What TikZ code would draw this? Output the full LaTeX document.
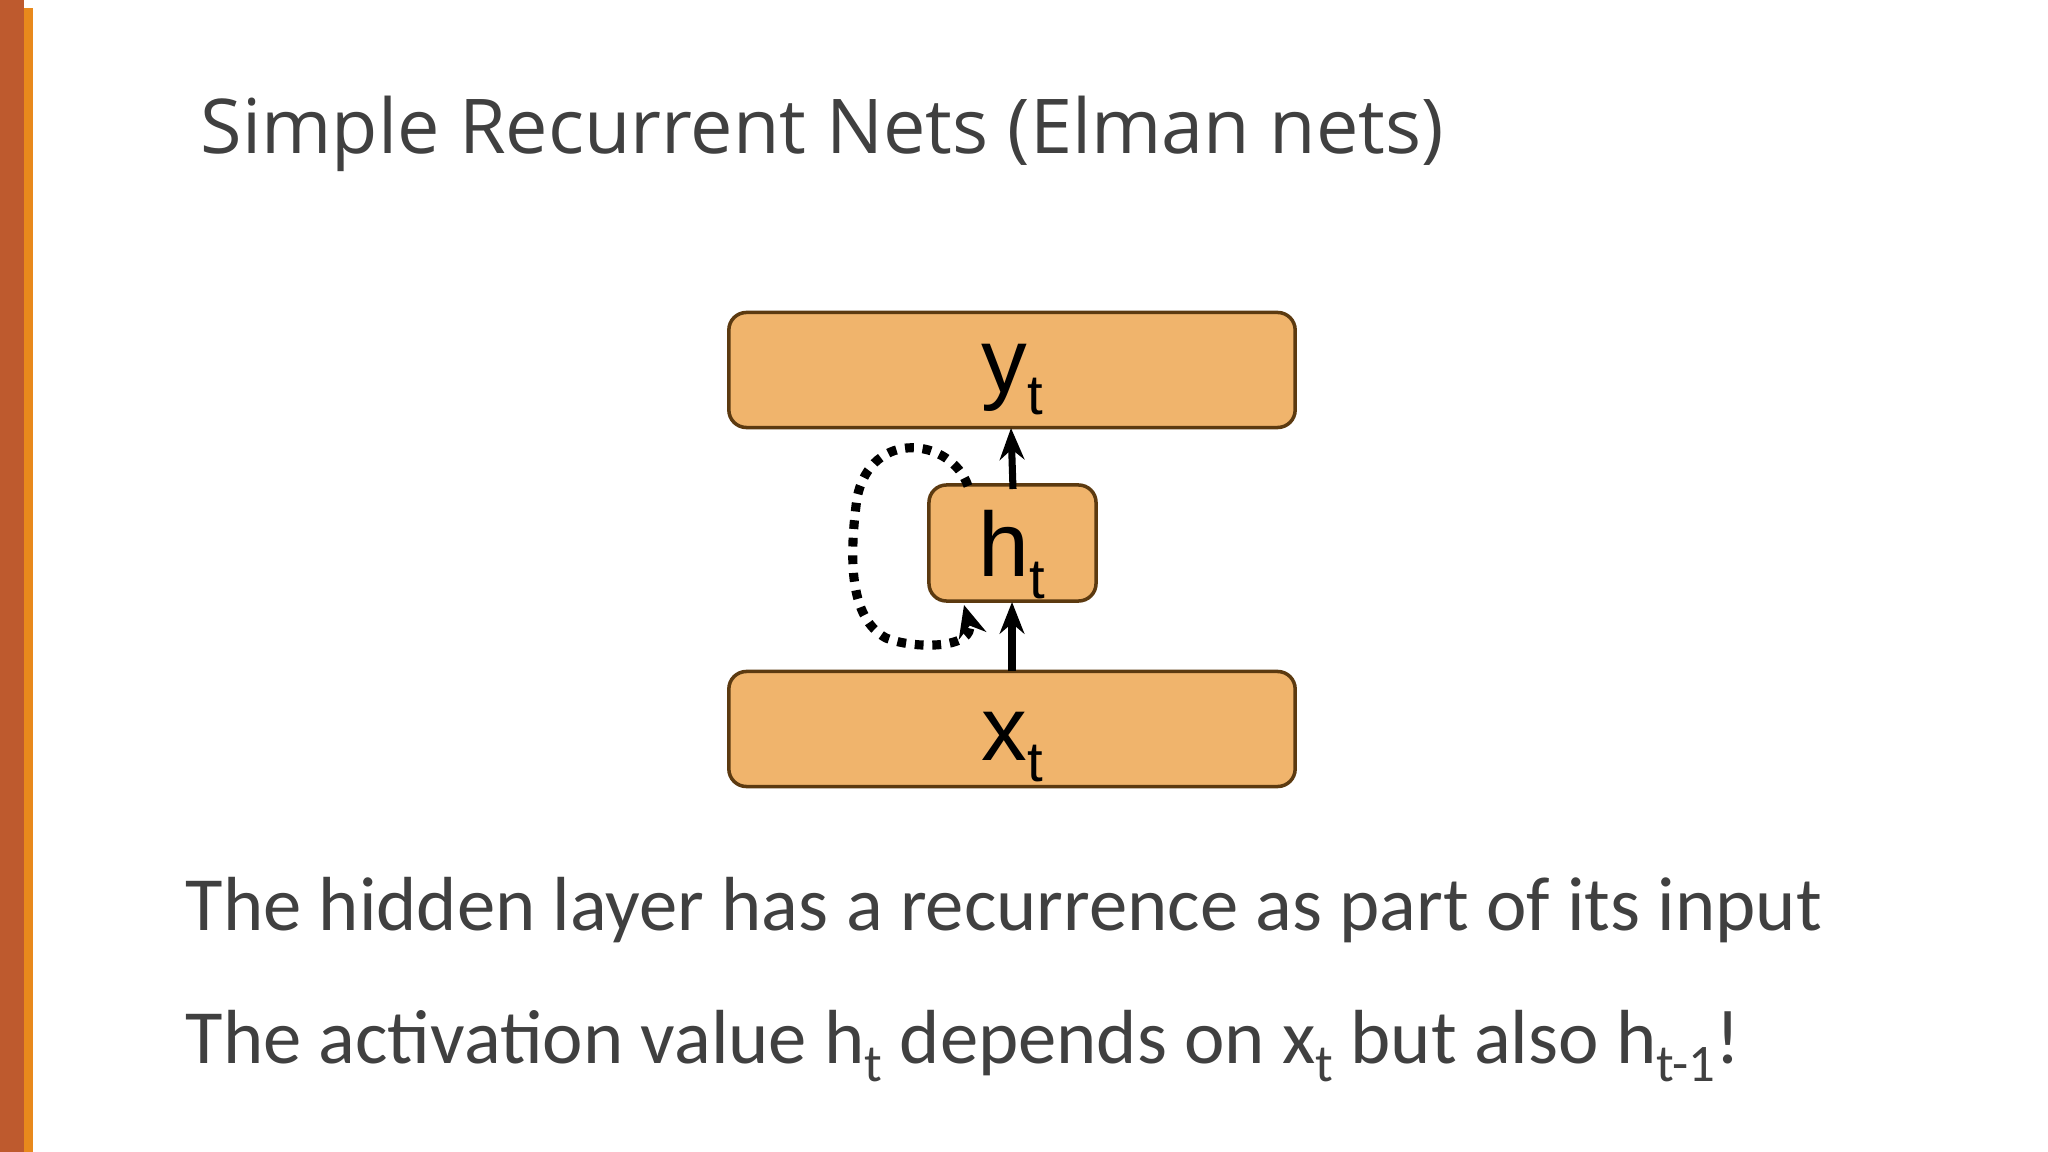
\documentclass[tikz,border=0pt]{standalone}
\usepackage{fontspec}
\setmainfont{Carlito}
\newfontfamily\titlefont{Open Sans}
\newfontfamily\arialfont{Liberation Sans}
\usetikzlibrary{arrows.meta}
\definecolor{boxfill}{HTML}{F0B46C}
\definecolor{boxline}{HTML}{5C3A10}
\definecolor{txt}{HTML}{404040}
\definecolor{stripeA}{HTML}{BE5A2E}
\definecolor{stripeB}{HTML}{E8891C}
\newcommand{\lowsub}[1]{\raisebox{-0.45ex}{\fontsize{16}{16}\selectfont #1}}
\newcommand{\bodysub}[1]{\raisebox{-0.5ex}{\fontsize{15}{15}\selectfont #1}}
\begin{document}
\begin{tikzpicture}[x=0.01cm,y=-0.01cm,
  layer/.style={draw=boxline,fill=boxfill,line width=1pt,rounded corners=5pt,inner sep=0pt},
  lab/.style={font=\arialfont\fontsize{26}{28}\selectfont,inner sep=0pt},
  arr/.style={-{Stealth[length=9pt,width=7pt]},line width=2pt}]
\useasboundingbox (0,0) rectangle (2048,1152);
\fill[white] (0,0) rectangle (2048,1152);
\fill[stripeA] (0,0) rectangle (24,1152);
\fill[stripeB] (24,8) rectangle (33,1152);
\node[anchor=base west,text=txt,inner sep=0pt,font=\titlefont\fontsize{21.5}{24}\selectfont] (title) at (200,154) {Simple Recurrent Nets (Elman nets)};
\node[layer,minimum width=5.66cm,minimum height=1.15cm] (y) at (1012,370) {};
\node[layer,minimum width=1.67cm,minimum height=1.16cm] (h) at (1012.5,543) {};
\node[layer,minimum width=5.66cm,minimum height=1.15cm] (x) at (1012,729) {};
\node[lab,anchor=base] (yl) at (1012,393) {y\lowsub{t}};
\node[lab,anchor=base] (hl) at (1012,577) {h\lowsub{t}};
\node[lab,anchor=base] (xl) at (1012,760) {x\lowsub{t}};
\draw[arr] (1013,489) -- (1011,428);
\draw[arr] (1012,671) -- (1012,602);
\coordinate (ls) at (968,486);
\coordinate (le) at (964,605);
\draw[-{Stealth[length=9pt,width=8pt]},line width=2.6pt,dash pattern=on 2.5pt off 2.5pt]
  (ls) .. controls (951,438) and (871,428) .. (857,498)
  .. controls (849,558) and (849,618) .. (886,638)
  .. controls (916,650) and (976,648) .. (le);
\node[anchor=base west,text=txt,inner sep=0pt,font=\fontsize{21.8}{24}\selectfont] (l1) at (185,930) {The hidden layer has a recurrence as part of its input};
\node[anchor=base west,text=txt,inner sep=0pt,font=\fontsize{21.8}{24}\selectfont] (l2) at (185,1063) {The activation value h\bodysub{t} depends on x\bodysub{t} but also h\bodysub{t-1}!};
\end{tikzpicture}
\end{document}
